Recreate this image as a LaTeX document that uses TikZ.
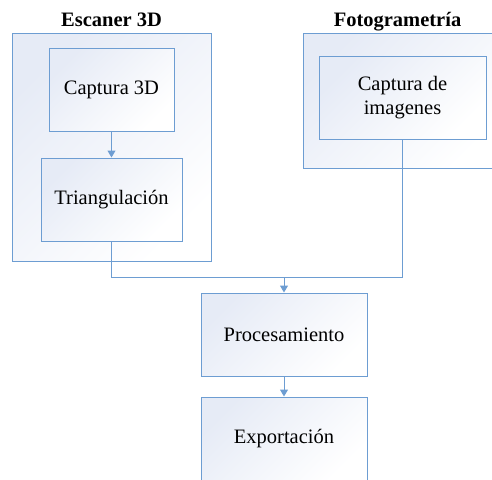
\documentclass[tikz,border=0pt]{standalone}
\usepackage{fontspec}
\setmainfont{Liberation Serif}
\usetikzlibrary{arrows.meta}
\definecolor{bord}{RGB}{109,157,210}
\definecolor{shadec}{RGB}{230,235,246}
\tikzset{
  box/.style={draw=bord, line width=1pt, top color=shadec, bottom color=white, shading angle=45,
    inner sep=0pt, font=\fontsize{20.5}{24}\selectfont, align=center},
  ttl/.style={font=\fontsize{20.5}{24}\selectfont\bfseries, anchor=base, inner sep=0pt},
  conn/.style={draw=bord, line width=1pt},
  arr/.style={conn, -{Triangle[length=7pt,width=8pt]}}
}
\begin{document}
\begin{tikzpicture}[x=1pt,y=-1pt]
\useasboundingbox (0,0) rectangle (492,479);
\clip (0,0) rectangle (492,479);
\node[box, minimum width=199pt, minimum height=228pt] (esc) at (111.5,147) {};
\node[box, minimum width=199pt, minimum height=135pt] (foto) at (402.5,100.5) {};
\node[ttl] (esct) at (111.5,26) {Escaner 3D};
\node[ttl] (fotot) at (397.5,27) {Fotogrametría};
\node[box, minimum width=125pt, minimum height=83pt] (cap) at (111.5,89.5) {Captura 3D};
\node[box, minimum width=141pt, minimum height=83pt] (tri) at (111.5,199.5) {Triangulación};
\node[box, minimum width=167pt, minimum height=83pt] (capimg) at (402.5,97.5) {Captura de\\imagenes};
\node[box, minimum width=166pt, minimum height=83pt] (proc) at (284,334.5) {Procesamiento};
\node[box, minimum width=166pt, minimum height=83pt] (exp) at (284,438.5) {Exportación};
\coordinate (jl) at (111.5,277);
\coordinate (jm) at (284,277);
\draw[arr] (cap) -- (tri);
\draw[conn] (tri.south) -- (jl) -| (capimg.south);
\draw[arr] (jm) -- (proc.north);
\draw[arr] (proc) -- (exp);
\end{tikzpicture}
\end{document}
